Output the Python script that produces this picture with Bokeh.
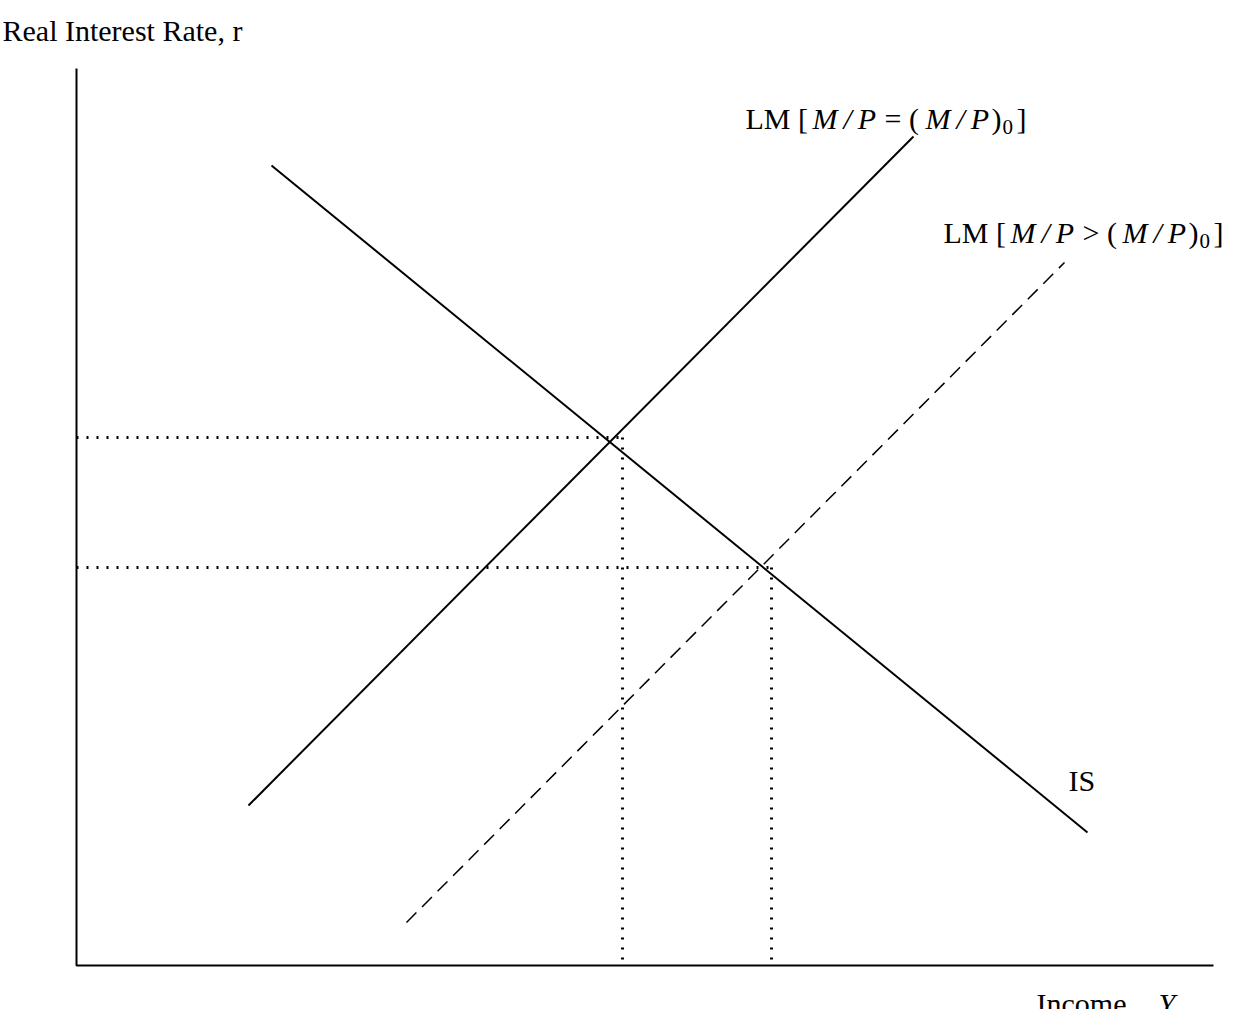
from bokeh.plotting import figure
from bokeh.models import Range1d
from bokeh.core.properties import value
from bokeh.embed import file_html
from bokeh.resources import INLINE

# Curve endpoints (page-pixel space, y measured downward)
is_x = [271, 1087]; is_y = [165, 832]
lm0_x = [248, 913]; lm0_y = [805, 136]
lm1_x = [406, 1064]; lm1_y = [922, 262]
eq_x = [622, 771]; eq_y = [437, 567]
axis_origin = (76, 965); axis_top = 68; axis_right = 1213

def Y(v): return [-t for t in v] if isinstance(v, list) else -v

p = figure(width=1235, height=1009, output_backend="svg", toolbar_location=None,
           x_range=Range1d(0, 1235), y_range=Range1d(-1009, 0), min_border=0)
p.axis.visible = False; p.grid.visible = False; p.outline_line_color = None

ox, oy = axis_origin
p.line([ox, ox, axis_right], Y([axis_top, oy, oy]), color="black", line_width=2)
p.line(is_x, Y(is_y), color="black", line_width=2)
p.line(lm0_x, Y(lm0_y), color="black", line_width=2)
p.line(lm1_x, Y(lm1_y), color="black", line_width=1.5, line_dash="14 8")
for x, y in zip(eq_x, eq_y):
    p.line([ox, x], Y([y, y]), color="black", line_width=3, line_dash="2 8")
    p.line([x, x], Y([y, oy]), color="black", line_width=3, line_dash="2 8")

F = "Liberation Serif"
MP = "M\u2009/\u2009P"
def seg(x, y, t, italic=False, size=30):
    p.text([x], [-y], text=[t], text_font=value(F), text_font_size=f"{size}px",
           text_font_style="italic" if italic else "normal", text_baseline="alphabetic",
           text_color="black")

# Label 1
seg(745, 118, "LM ["); seg(812, 118, MP, True); seg(884, 118, "= ("); seg(925, 118, MP, True)
seg(991, 118, ")"); seg(1002, 126, "0", size=21); seg(1016, 118, "]")
# Label 2
seg(943, 232, "LM ["); seg(1010, 232, MP, True); seg(1082, 232, "> ("); seg(1122, 232, MP, True)
seg(1188, 232, ")"); seg(1199, 240, "0", size=21); seg(1213, 232, "]")
seg(1068, 780, "IS")
seg(1036, 1003, "Income,"); seg(1158, 1003, "Y", True)
seg(2, 30, "Real Interest Rate, r")

open("out.html", "w").write(file_html(p, INLINE))
